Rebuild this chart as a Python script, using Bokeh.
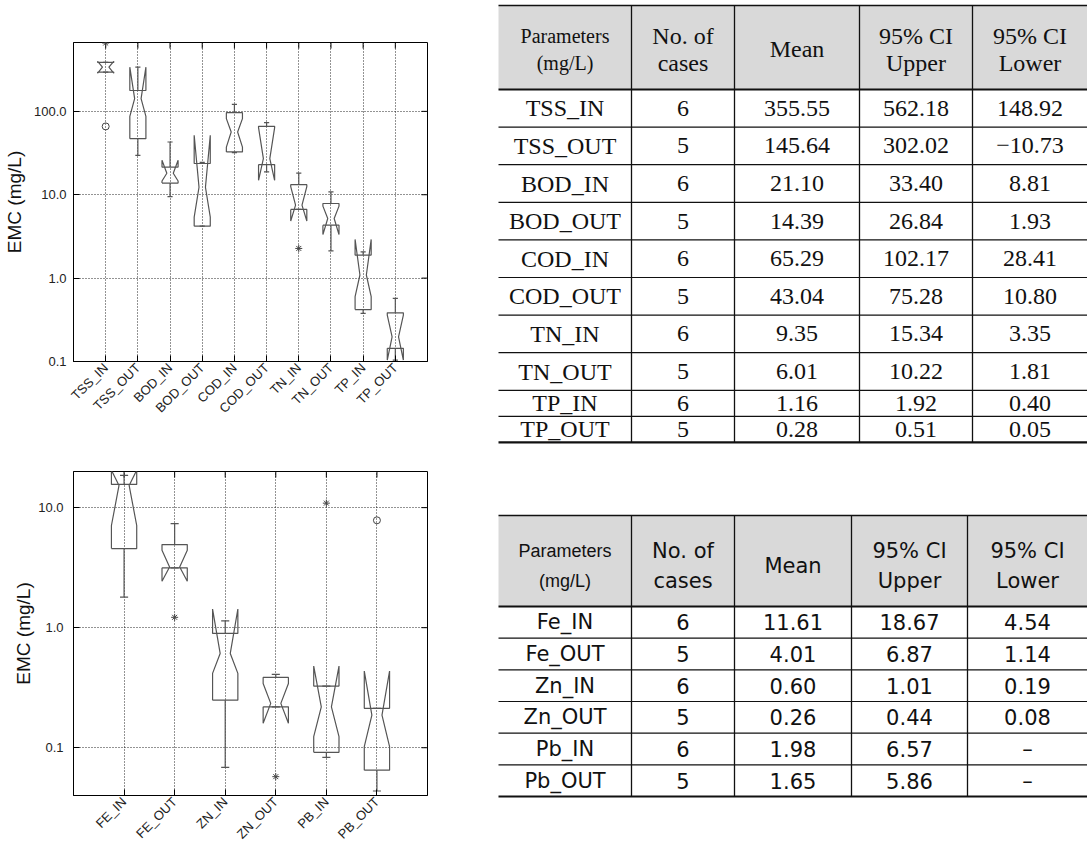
import math
from bokeh.plotting import figure
from bokeh.models import Range1d, FixedTicker, PrintfTickFormatter
from bokeh.layouts import row, column
from bokeh.embed import file_html
from bokeh.resources import INLINE
from bokeh.core.properties import value

# ---------------- data: top box chart ----------------
top_cats = ["TSS_IN", "TSS_OUT", "BOD_IN", "BOD_OUT", "COD_IN", "COD_OUT", "TN_IN", "TN_OUT", "TP_IN", "TP_OUT"]
top_q1 = [296, 47, 13.8, 4.2, 32.6, 23.0, 6.66, 4.32, 0.42, 0.144]
top_med = [339, 142, 18.1, 12.3, 56.5, 27.1, 7.5, 5.19, 1.09, 0.198]
top_q3 = [386, 178, 21.5, 23.7, 96.5, 66.1, 13.2, 7.85, 1.89, 0.384]
top_nlo = [287, 87, 14.6, 5.4, 37.3, 14.9, 4.85, 3.33, 0.60, 0.104]
top_nhi = [398, 339, 25.9, 51.6, 81.8, 64.0, 12.5, 7.3, 2.91, 0.36]
top_wlo = [296, 29.7, 9.5, 4.2, 32.0, 18.8, 6.66, 2.12, 0.377, 0.104]
top_whi = [386, 339, 42.9, 24.5, 121, 73.2, 18.2, 10.8, 2.07, 0.571]
top_out_cat = ["TSS_IN", "TSS_IN", "TN_IN"]
top_out_val = [660, 66, 2.27]
top_out_mark = ["asterisk", "circle", "asterisk"]

# ---------------- data: bottom box chart ----------------
bot_cats = ["FE_IN", "FE_OUT", "ZN_IN", "ZN_OUT", "PB_IN", "PB_OUT"]
bot_q1 = [4.56, 3.15, 0.249, 0.219, 0.0916, 0.065]
bot_med = [15.3, 3.2, 0.61, 0.234, 0.219, 0.187]
bot_q3 = [15.6, 4.92, 0.895, 0.385, 0.326, 0.213]
bot_nlo = [7.1, 2.44, 0.416, 0.16, 0.1235, 0.102]
bot_nhi = [20.5, 4.41, 1.43, 0.343, 0.479, 0.435]
bot_wlo = [1.8, 3.15, 0.0687, 0.219, 0.083, 0.0436]
bot_whi = [18.6, 7.36, 1.14, 0.408, 0.326, 0.213]
bot_out_cat = ["FE_OUT", "ZN_OUT", "PB_IN", "PB_OUT"]
bot_out_val = [1.22, 0.0574, 10.9, 7.84]
bot_out_mark = ["asterisk", "asterisk", "asterisk", "circle"]

# ---------------- data: tables ----------------
t1_header = ["Parameters\n(mg/L)", "No. of\ncases", "Mean", "95% CI\nUpper", "95% CI\nLower"]
t1_param = ["TSS_IN", "TSS_OUT", "BOD_IN", "BOD_OUT", "COD_IN", "COD_OUT", "TN_IN", "TN_OUT", "TP_IN", "TP_OUT"]
t1_n = ["6", "5", "6", "5", "6", "5", "6", "5", "6", "5"]
t1_mean = ["355.55", "145.64", "21.10", "14.39", "65.29", "43.04", "9.35", "6.01", "1.16", "0.28"]
t1_upper = ["562.18", "302.02", "33.40", "26.84", "102.17", "75.28", "15.34", "10.22", "1.92", "0.51"]
t1_lower = ["148.92", "\u221210.73", "8.81", "1.93", "28.41", "10.80", "3.35", "1.81", "0.40", "0.05"]

t2_header = ["Parameters\n(mg/L)", "No. of\ncases", "Mean", "95% CI\nUpper", "95% CI\nLower"]
t2_param = ["Fe_IN", "Fe_OUT", "Zn_IN", "Zn_OUT", "Pb_IN", "Pb_OUT"]
t2_n = ["6", "5", "6", "5", "6", "5"]
t2_mean = ["11.61", "4.01", "0.60", "0.26", "1.98", "1.65"]
t2_upper = ["18.67", "6.87", "1.01", "0.44", "6.57", "5.86"]
t2_lower = ["4.54", "1.14", "0.19", "0.08", "\u2013", "\u2013"]

CHART_FONT = "Liberation Sans"
BOX_COLOR = "#555555"


def box_chart(cats, q1, med, q3, nlo, nhi, wlo, whi, out_cat, out_val, out_mark,
              w, h, y_lo, y_hi, y_ticks, b_left, b_right, b_top, b_bottom,
              tick_standoff, label_standoff):
    n = len(cats)
    p = figure(width=w, height=h, x_range=Range1d(0, n + 1), y_range=Range1d(y_lo, y_hi),
               y_axis_type="log", output_backend="svg", toolbar_location=None,
               min_border_left=b_left, min_border_right=b_right,
               min_border_top=b_top, min_border_bottom=b_bottom)
    p.outline_line_color = "black"
    p.outline_line_width = 1
    xticks = list(range(1, n + 1))
    xt = FixedTicker(ticks=xticks)
    yt = FixedTicker(ticks=y_ticks)
    xa = p.xaxis[0]
    ya = p.yaxis[0]
    xa.ticker = xt
    xa.major_label_overrides = {i + 1: c for i, c in enumerate(cats)}
    xa.major_label_orientation = math.pi / 4
    xa.major_label_text_font_size = "13px"
    xa.major_label_standoff = 4
    ya.ticker = yt
    ya.formatter = PrintfTickFormatter(format="%.1f")
    ya.major_label_text_font_size = "13px"
    ya.major_label_standoff = tick_standoff
    ya.axis_label = "EMC (mg/L)"
    ya.axis_label_text_font = CHART_FONT
    ya.axis_label_text_font_style = "normal"
    ya.axis_label_text_font_size = "19px"
    ya.axis_label_text_color = "#111111"
    ya.axis_label_standoff = label_standoff
    for ax in (xa, ya):
        ax.major_tick_in = 6
        ax.major_tick_out = 0
        ax.minor_tick_line_color = None
        ax.axis_line_color = "black"
        ax.major_tick_line_color = "black"
        ax.major_label_text_font = CHART_FONT
        ax.major_label_text_color = "#222222"
    p.xgrid.ticker = xt
    p.ygrid.ticker = yt
    p.grid.grid_line_color = "black"
    p.grid.grid_line_dash = "1 2"
    p.grid.grid_line_alpha = 0.85
    # inward tick marks on the right and top frame edges
    p.ray(x=[n + 1] * len(y_ticks), y=y_ticks, angle=math.pi, length=6, length_units="screen",
          line_color="black", line_width=1)
    p.ray(x=xticks, y=[y_hi] * n, angle=-math.pi / 2, length=6, length_units="screen",
          line_color="black", line_width=1)

    hw, nw, cw = 0.25, 0.1, 0.08
    xs, ys = [], []
    xc = []
    for i in range(n):
        x = i + 1
        xc.append(x)
        lb, ub, lm, um = x - hw, x + hw, x - nw, x + nw
        xs.append([lb, lb, lm, lb, lb, ub, ub, um, ub, ub, lb])
        ys.append([q1[i], nlo[i], med[i], nhi[i], q3[i], q3[i], nhi[i], med[i], nlo[i], q1[i], q1[i]])
    p.multi_line(xs, ys, line_color=BOX_COLOR, line_width=1.2)
    # whiskers
    p.segment(x0=xc, y0=q3, x1=xc, y1=whi, line_color=BOX_COLOR, line_width=1.2)
    p.segment(x0=xc, y0=q1, x1=xc, y1=wlo, line_color=BOX_COLOR, line_width=1.2)
    p.segment(x0=[x - cw for x in xc], y0=whi, x1=[x + cw for x in xc], y1=whi,
              line_color=BOX_COLOR, line_width=1.2)
    p.segment(x0=[x - cw for x in xc], y0=wlo, x1=[x + cw for x in xc], y1=wlo,
              line_color=BOX_COLOR, line_width=1.2)
    # outliers
    ox = [cats.index(c) + 1 for c in out_cat]
    p.scatter(x=ox, y=out_val, marker=out_mark, size=7, line_color="#444444",
              fill_color=None, line_width=1)
    return p


def table_fig(w, h, col_edges, hdr_top, hdr_bot, row_h, header, columns, hdr_ys,
              hdr_font, hdr_size, first_hdr_font, first_hdr_size, cell_font, cell_size):
    p = figure(width=w, height=h, x_range=Range1d(0, w), y_range=Range1d(h, 0),
               output_backend="svg", toolbar_location=None, min_border=0,
               x_axis_type=None, y_axis_type=None)
    p.grid.visible = False
    p.outline_line_color = None
    x0, x1 = col_edges[0], col_edges[-1]
    p.quad(left=[x0], right=[x1], top=[hdr_top], bottom=[hdr_bot], fill_color="#d9d9d9",
           line_color=None)
    edges = [hdr_bot]
    for rh in row_h:
        edges.append(edges[-1] + rh)
    bottom = edges[-1]
    inner = edges[1:-1]
    p.segment(x0=[x0] * len(inner), y0=inner, x1=[x1] * len(inner), y1=inner,
              line_color="#111111", line_width=1.2)
    p.segment(x0=[x0], y0=[hdr_top], x1=[x1], y1=[hdr_top], line_color="#111111", line_width=1.6)
    p.segment(x0=[x0, x0], y0=[hdr_bot, bottom], x1=[x1, x1], y1=[hdr_bot, bottom],
              line_color="#111111", line_width=2.2)
    vx = col_edges[1:-1]
    p.segment(x0=vx, y0=[hdr_top] * len(vx), x1=vx, y1=[bottom] * len(vx),
              line_color="#111111", line_width=1.3)
    centers = [(col_edges[j] + col_edges[j + 1]) / 2 for j in range(len(col_edges) - 1)]
    for j, htxt in enumerate(header):
        lines = htxt.split("\n")
        if len(lines) == 2:
            yy = hdr_ys
        else:
            yy = [(hdr_ys[0] + hdr_ys[1]) / 2]
        font = first_hdr_font if j == 0 else hdr_font
        size = first_hdr_size if j == 0 else hdr_size
        p.text(x=[centers[j]] * len(lines), y=yy, text=lines, text_align="center",
               text_baseline="middle", text_font=value(font), text_font_size=value(size),
               text_color="#111111")
    rc = [(edges[i] + edges[i + 1]) / 2 for i in range(len(row_h))]
    for j, col in enumerate(columns):
        p.text(x=[centers[j]] * len(col), y=rc, text=col, text_align="center",
               text_baseline="middle", text_font=value(cell_font), text_font_size=value(cell_size),
               text_color="#111111")
    return p


p1 = box_chart(top_cats, top_q1, top_med, top_q3, top_nlo, top_nhi, top_wlo, top_whi,
               top_out_cat, top_out_val, top_out_mark,
               w=468, h=448, y_lo=0.1, y_hi=670, y_ticks=[0.1, 1, 10, 100],
               b_left=72, b_right=41, b_top=42, b_bottom=87, tick_standoff=7, label_standoff=6)

p2 = box_chart(bot_cats, bot_q1, bot_med, bot_q3, bot_nlo, bot_nhi, bot_wlo, bot_whi,
               bot_out_cat, bot_out_val, bot_out_mark,
               w=468, h=401, y_lo=0.04, y_hi=20, y_ticks=[0.1, 1, 10],
               b_left=63, b_right=40, b_top=23, b_bottom=54, tick_standoff=10, label_standoff=1)

t1 = table_fig(619, 448, [30, 163, 266, 391, 504, 619], 5, 89,
               [37.6] * 8 + [26, 26], t1_header,
               [t1_param, t1_n, t1_mean, t1_upper, t1_lower], [35, 62],
               "Liberation Serif", "24px", "Liberation Serif", "20px", "Liberation Serif", "24px")

t2 = table_fig(619, 401, [30, 163, 266, 383, 499, 619], 67, 158,
               [31.67] * 6, t2_header,
               [t2_param, t2_n, t2_mean, t2_upper, t2_lower], [102, 132],
               "DejaVu Sans", "21px", "Liberation Sans", "18px", "DejaVu Sans", "21px")

layout = row(column(p1, p2), column(t1, t2))
open("out.html", "w").write(file_html(layout, INLINE))
